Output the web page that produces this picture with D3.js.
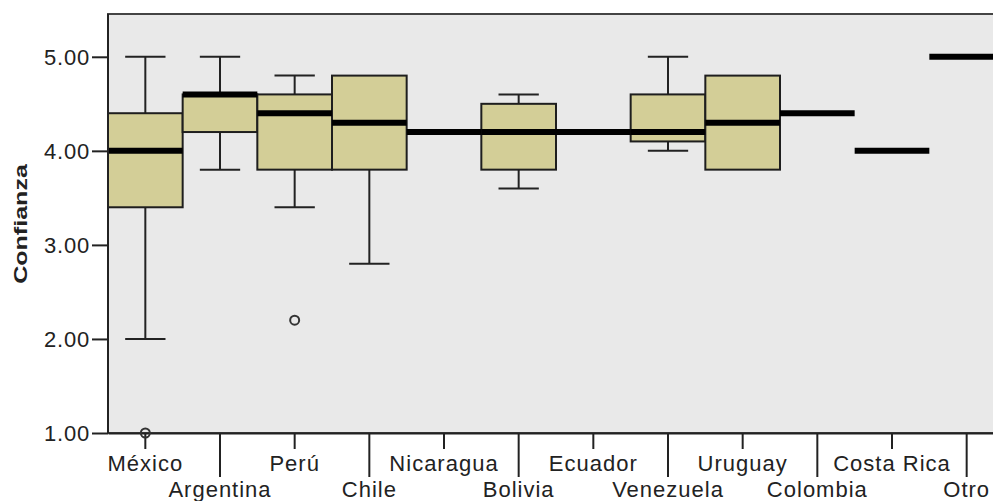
<!DOCTYPE html>
<html>
<head>
<meta charset="utf-8">
<script src="https://cdn.jsdelivr.net/npm/d3@7"></script>
<style>
  body { margin: 0; background: #fff; }
  svg { display: block; }
  text { font-family: "Liberation Sans", Arial, sans-serif; fill: #222; }
</style>
</head>
<body>
<div id="chart"></div>
<script>
// boxplot stats per country
const categories = ['México', 'Argentina', 'Perú', 'Chile', 'Nicaragua', 'Bolivia',
                    'Ecuador', 'Venezuela', 'Uruguay', 'Colombia', 'Costa Rica', 'Otro'];
const whiskerLow  = [2.0, 3.8, 3.4, 2.8, 4.2, 3.6, 4.2, 4.0, 3.8, 4.4, 4.0, 5.0];
const q1          = [3.4, 4.2, 3.8, 3.8, 4.2, 3.8, 4.2, 4.1, 3.8, 4.4, 4.0, 5.0];
const median      = [4.0, 4.6, 4.4, 4.3, 4.2, 4.2, 4.2, 4.2, 4.3, 4.4, 4.0, 5.0];
const q3          = [4.4, 4.6, 4.6, 4.8, 4.2, 4.5, 4.2, 4.6, 4.8, 4.4, 4.0, 5.0];
const whiskerHigh = [5.0, 5.0, 4.8, 4.8, 4.2, 4.6, 4.2, 5.0, 4.8, 4.4, 4.0, 5.0];
const outlierCats = ['México', 'Perú'];
const outlierVals = [1.0, 2.2];
const yTicks = [1, 2, 3, 4, 5];

const width = 993, height = 501;
const margin = {left: 108, top: 14, bottom: 68};

const svg = d3.select('#chart').append('svg')
    .attr('width', width)
    .attr('height', height);

const x = d3.scaleBand()
    .domain(categories)
    .range([margin.left, 1004])
    .padding(0);

const y = d3.scaleLinear()
    .domain([1, 5.455])
    .range([height - margin.bottom, margin.top]);

const rows = categories.map((c, i) => ({
    cat: c, lo: whiskerLow[i], q1: q1[i], med: median[i], q3: q3[i], hi: whiskerHigh[i]
}));

// plot background
svg.append('rect')
    .attr('x', x.range()[0])
    .attr('y', y.range()[1])
    .attr('width', x.range()[1] - x.range()[0])
    .attr('height', y.range()[0] - y.range()[1])
    .attr('fill', '#e9e9e9')
    .attr('stroke', '#444')
    .attr('stroke-width', 2);

const bw = x.bandwidth();
const capW = bw * 0.54;
const g = svg.append('g');

// whiskers
rows.forEach(d => {
    const cx = x(d.cat) + bw / 2;
    [[d.q3, d.hi], [d.q1, d.lo]].forEach(([a, b]) => {
        if (a === b) return;
        g.append('line')
            .attr('x1', cx).attr('x2', cx)
            .attr('y1', y(a)).attr('y2', y(b))
            .attr('stroke', '#222').attr('stroke-width', 2);
        g.append('line')
            .attr('x1', cx - capW / 2).attr('x2', cx + capW / 2)
            .attr('y1', y(b)).attr('y2', y(b))
            .attr('stroke', '#222').attr('stroke-width', 2);
    });
});

// boxes
g.selectAll('rect.box')
    .data(rows.filter(d => d.q3 > d.q1))
    .enter().append('rect')
    .attr('class', 'box')
    .attr('x', d => x(d.cat))
    .attr('width', bw)
    .attr('y', d => y(d.q3))
    .attr('height', d => y(d.q1) - y(d.q3))
    .attr('fill', '#d3ce97')
    .attr('stroke', '#1e1e1e')
    .attr('stroke-width', 2);

// medians
g.selectAll('line.median')
    .data(rows)
    .enter().append('line')
    .attr('class', 'median')
    .attr('x1', d => x(d.cat))
    .attr('x2', d => x(d.cat) + bw)
    .attr('y1', d => y(d.med))
    .attr('y2', d => y(d.med))
    .attr('stroke', '#000')
    .attr('stroke-width', 6);

// axes
const yAxis = svg.append('g')
    .attr('transform', `translate(${margin.left},0)`)
    .call(d3.axisLeft(y).tickValues(yTicks).tickFormat(d3.format('.2f')).tickSize(16).tickPadding(2));
yAxis.select('.domain').remove();
yAxis.selectAll('line').attr('stroke', '#222').attr('stroke-width', 2);
yAxis.selectAll('text')
    .style('font-size', '22px')
    .style('letter-spacing', '0.8px')
    .attr('dy', '0.36em')
    .attr('fill', '#222');
svg.append('line')
    .attr('x1', margin.left).attr('x2', margin.left)
    .attr('y1', y.range()[1]).attr('y2', y.range()[0])
    .attr('stroke', '#222').attr('stroke-width', 2);

const xAxis = svg.append('g')
    .attr('transform', `translate(0,${y.range()[0]})`)
    .call(d3.axisBottom(x).tickSizeOuter(0));
xAxis.select('.domain')
    .attr('stroke', '#222').attr('stroke-width', 2);
xAxis.selectAll('.tick line')
    .attr('stroke', '#222').attr('stroke-width', 2)
    .attr('y2', (d, i) => i % 2 ? 44 : 16);
xAxis.selectAll('.tick text')
    .style('font-size', '22px')
    .style('letter-spacing', '1px')
    .attr('fill', '#222')
    .attr('dy', 0)
    .attr('y', (d, i) => i % 2 ? 64 : 38);

// outliers
svg.selectAll('circle.outlier')
    .data(outlierCats.map((c, i) => ({cat: c, v: outlierVals[i]})))
    .enter().append('circle')
    .attr('class', 'outlier')
    .attr('cx', d => x(d.cat) + bw / 2)
    .attr('cy', d => y(d.v))
    .attr('r', 4.5)
    .attr('fill', 'none')
    .attr('stroke', '#333')
    .attr('stroke-width', 2);

// y title, stretched along its length like the original
svg.append('text')
    .attr('transform', `translate(27,224) rotate(-90) scale(1.32,1)`)
    .attr('text-anchor', 'middle')
    .style('font-size', '19px')
    .style('font-weight', 'bold')
    .text('Confianza');
</script>
</body>
</html>
